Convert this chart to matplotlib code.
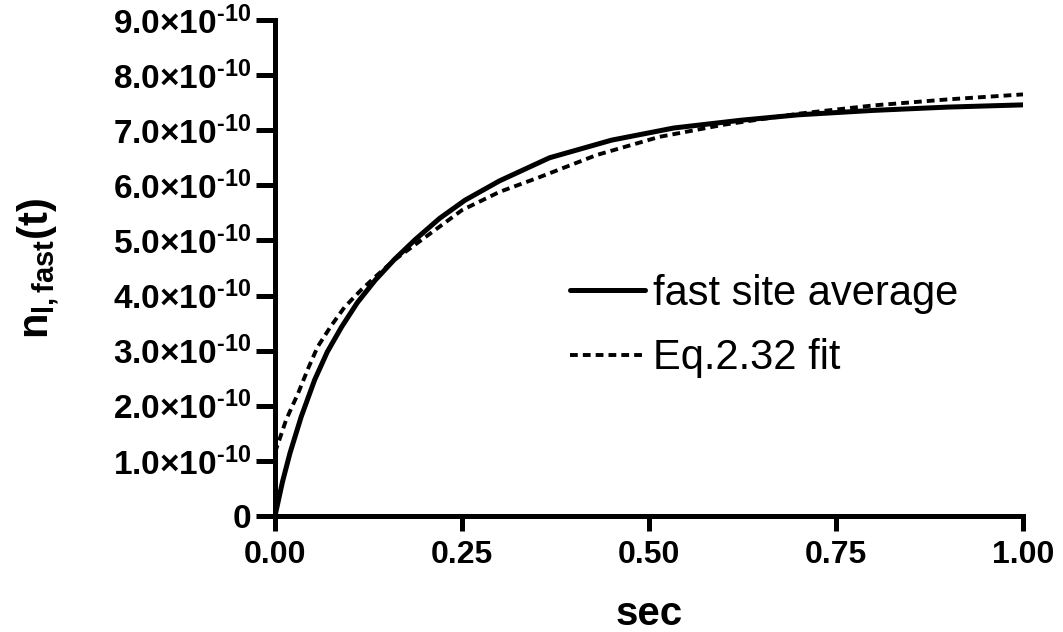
import numpy as np
import matplotlib
matplotlib.use("Agg")
import matplotlib.pyplot as plt

# -----------------------------------------------------------
# Data (values in units of 1e-10)
# -----------------------------------------------------------

t_avg = [0.000, 0.010, 0.020, 0.035, 0.053, 0.070, 0.089, 0.110, 0.134, 0.160,
         0.187, 0.220, 0.254, 0.300, 0.367, 0.450, 0.533, 0.622, 0.700, 0.800,
         0.900, 1.000]
n_avg = [0.00, 0.62, 1.14, 1.80, 2.47, 2.98, 3.43, 3.87, 4.28, 4.66,
         5.01, 5.40, 5.73, 6.08, 6.50, 6.82, 7.04, 7.18, 7.28, 7.36,
         7.42, 7.46]

t_fit = [0.000, 0.015, 0.031, 0.045, 0.057, 0.075, 0.093, 0.115, 0.134, 0.160,
         0.200, 0.250, 0.300, 0.354, 0.430, 0.514, 0.600, 0.700, 0.800, 0.900,
         1.000]
n_fit = [1.15, 1.75, 2.23, 2.70, 3.07, 3.45, 3.79, 4.10, 4.34, 4.65,
         5.05, 5.55, 5.88, 6.15, 6.55, 6.88, 7.10, 7.30, 7.45, 7.56,
         7.65]

x_ticks = [0.00, 0.25, 0.50, 0.75, 1.00]
x_ticklabels = ["0.00", "0.25", "0.50", "0.75", "1.00"]
y_ticks = [0, 1, 2, 3, 4, 5, 6, 7, 8, 9]
y_ticklabels = ["0"] + ["%d.0×10$^{\\text{-10}}$" % k for k in y_ticks[1:]]

scale = 1e-10

# -----------------------------------------------------------
# Plot settings
# -----------------------------------------------------------

plt.rcParams.update({
    "font.family": ["Liberation Sans", "DejaVu Sans"],
    "mathtext.fontset": "custom",
    "mathtext.rm": "Liberation Sans:bold",
    "mathtext.bf": "Liberation Sans:bold",
    "mathtext.it": "Liberation Sans:italic",
})

W, H = 1063, 632
fig = plt.figure(figsize=(W / 100, H / 100), dpi=100)
ax = fig.add_axes([275 / W, 1 - 516 / H, (1023 - 275) / W, (516 - 20) / H])

ax.plot(np.array(t_avg), np.array(n_avg) * scale, color="black", lw=3.6,
        solid_capstyle="round", label="fast site average")
ax.plot(np.array(t_fit), np.array(n_fit) * scale, color="black", lw=2.8,
        dashes=(2.0, 1.3), label="Eq.2.32 fit")

ax.set_xlim(0, 1.0)
ax.set_ylim(0, 9e-10)

for s in ["top", "right"]:
    ax.spines[s].set_visible(False)
for s in ["left", "bottom"]:
    ax.spines[s].set_linewidth(3.6)

ax.set_xticks(x_ticks)
ax.set_xticklabels(x_ticklabels, fontsize=23, fontweight="bold")
ax.set_yticks([v * scale for v in y_ticks])
ax.set_yticklabels(y_ticklabels, fontsize=24, fontweight="bold")
ax.tick_params(axis="y", direction="out", length=14, width=3.6, pad=3)
ax.tick_params(axis="x", direction="out", length=11, width=3.6, pad=6)

ax.set_xlabel("sec", fontsize=29, fontweight="bold", labelpad=18)
ax.set_ylabel(r"$\mathbf{n}_{\mathbf{l,fast}}\mathbf{(t)}$", fontsize=30, labelpad=38)

ax.legend(loc="center left", bbox_to_anchor=(570 / W, 1 - 326 / H),
          bbox_transform=fig.transFigure, frameon=False, fontsize=30,
          handlelength=1.8, handletextpad=0.2, labelspacing=0.6,
          borderpad=0, borderaxespad=0)

fig.savefig("out.png", dpi=100)
